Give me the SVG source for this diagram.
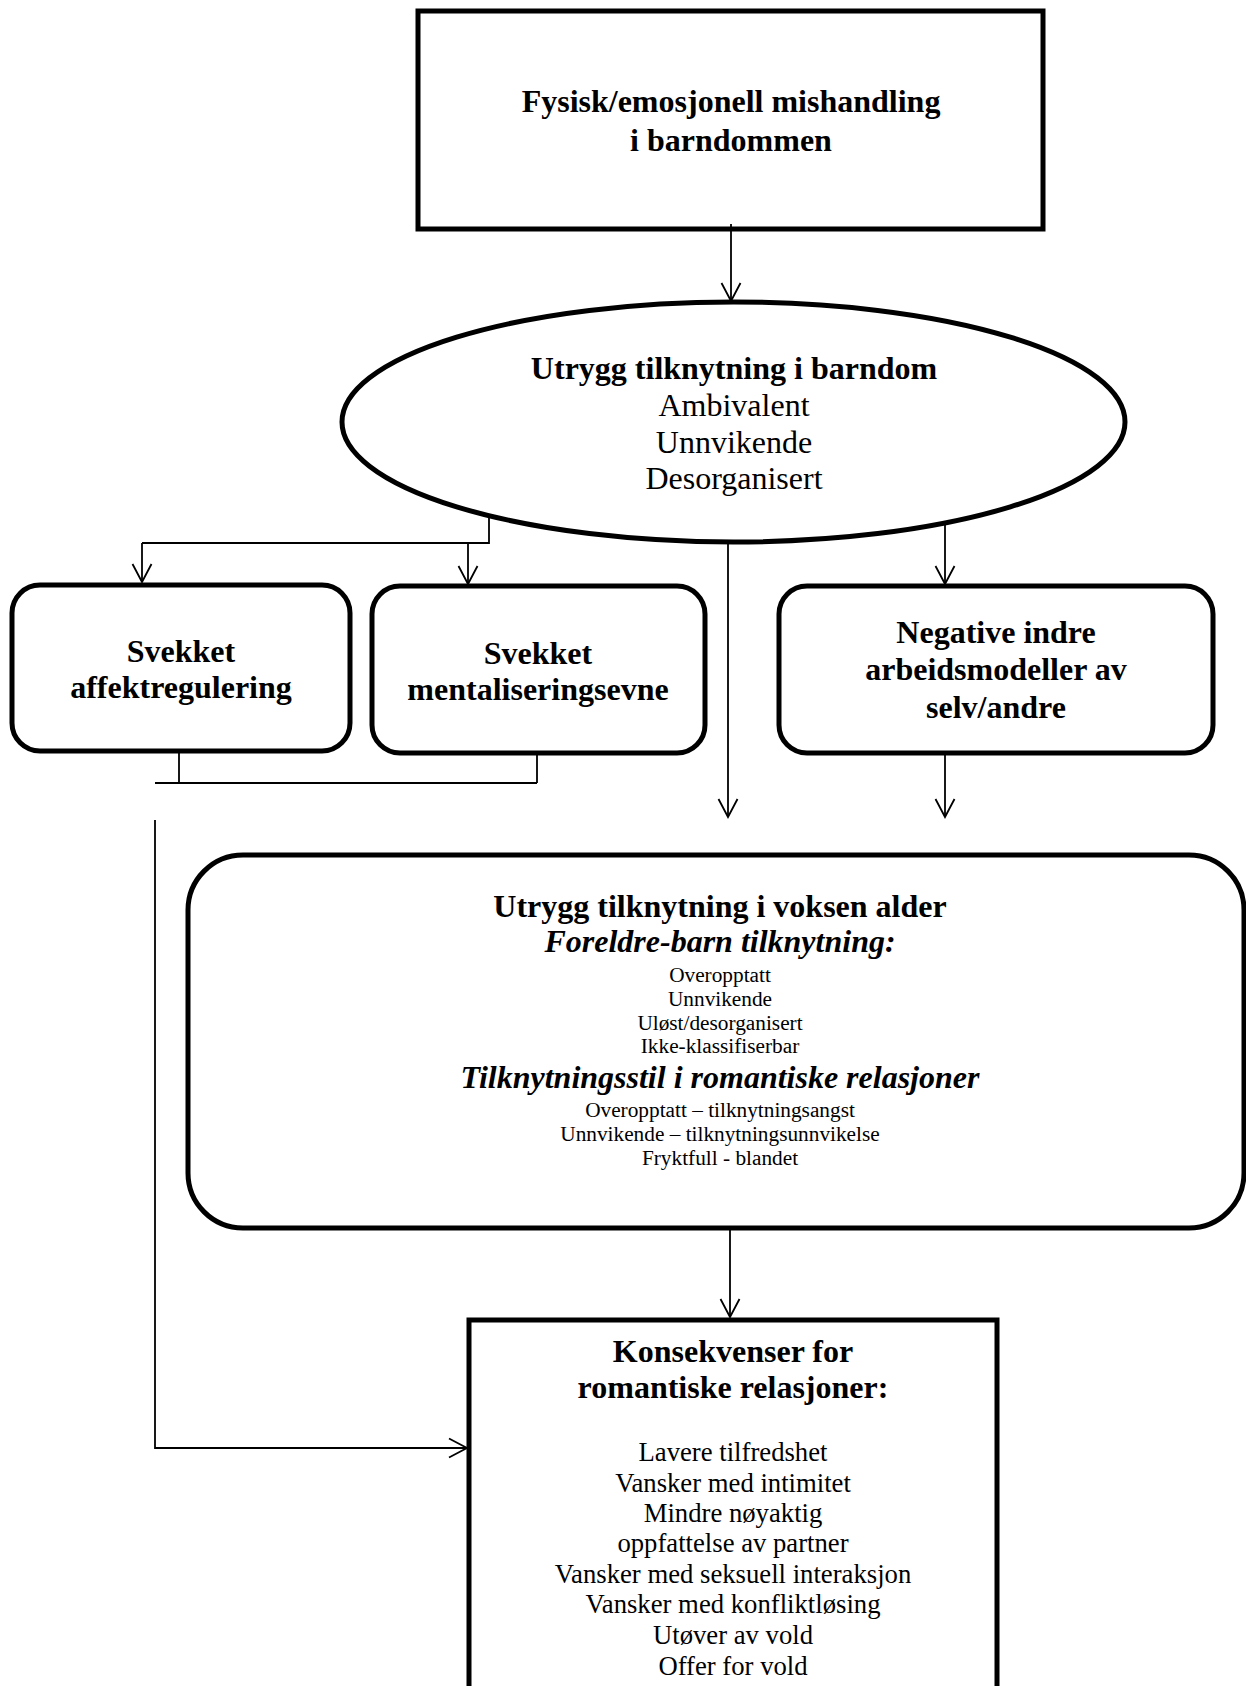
<svg xmlns="http://www.w3.org/2000/svg" width="1246" height="1686" viewBox="0 0 1246 1686">
<style>
.node{fill:#fff;stroke:#000;stroke-width:5}
.conn{fill:none;stroke:#000;stroke-width:1.8}
text{font-family:"Liberation Serif","Times New Roman",serif;fill:#000;text-anchor:middle}
.b{font-weight:bold;font-size:32px}
.bi{font-weight:bold;font-style:italic;font-size:32px}
.r32{font-size:32px}
.r27{font-size:26.7px}
.r21{font-size:21.3px}
</style>
<defs>
<marker id="arr" markerUnits="userSpaceOnUse" markerWidth="22" markerHeight="22" viewBox="-20 -11 22 22" refX="0" refY="0" orient="auto">
<path d="M-18,-9.5 L0,0 L-18,9.5" fill="none" stroke="#000" stroke-width="1.8"/>
</marker>
</defs>
<rect width="1246" height="1686" fill="#fff"/>

<g id="n-mishandling">
<rect class="node" x="418" y="11" width="625" height="218" stroke-width="4.5"/>
<text class="b" x="731" y="112">Fysisk/emosjonell mishandling</text>
<text class="b" x="731" y="151">i barndommen</text>
</g>

<g id="n-utrygg-barndom">
<ellipse class="node" cx="733.5" cy="422" rx="391.5" ry="120"/>
<text class="b" x="734" y="379">Utrygg tilknytning i barndom</text>
<text class="r32" x="734" y="416">Ambivalent</text>
<text class="r32" x="734" y="453">Unnvikende</text>
<text class="r32" x="734" y="489">Desorganisert</text>
</g>

<g id="n-affekt">
<rect class="node" x="12" y="585" width="338" height="166" rx="28"/>
<text class="b" x="181" y="662">Svekket</text>
<text class="b" x="181" y="698">affektregulering</text>
</g>

<g id="n-mentalisering">
<rect class="node" x="372" y="586" width="333" height="167" rx="28"/>
<text class="b" x="538" y="664">Svekket</text>
<text class="b" x="538" y="700">mentaliseringsevne</text>
</g>

<g id="n-negative">
<rect class="node" x="779" y="586" width="434" height="167" rx="28"/>
<text class="b" x="996" y="643">Negative indre</text>
<text class="b" x="996" y="680">arbeidsmodeller av</text>
<text class="b" x="996" y="718">selv/andre</text>
</g>

<g id="n-voksen">
<rect class="node" x="188" y="855" width="1056" height="373" rx="55"/>
<text class="b" x="720" y="917">Utrygg tilknytning i voksen alder</text>
<text class="bi" x="720" y="952">Foreldre-barn tilknytning:</text>
<text class="r21" x="720" y="982">Overopptatt</text>
<text class="r21" x="720" y="1006">Unnvikende</text>
<text class="r21" x="720" y="1030">Uløst/desorganisert</text>
<text class="r21" x="720" y="1053">Ikke-klassifiserbar</text>
<text class="bi" x="720" y="1088">Tilknytningsstil i romantiske relasjoner</text>
<text class="r21" x="720" y="1117">Overopptatt – tilknytningsangst</text>
<text class="r21" x="720" y="1141">Unnvikende – tilknytningsunnvikelse</text>
<text class="r21" x="720" y="1165">Fryktfull - blandet</text>
</g>

<g id="n-konsekvenser">
<rect class="node" x="469" y="1320" width="528" height="400" stroke-width="4.5"/>
<text class="b" x="733" y="1362">Konsekvenser for</text>
<text class="b" x="733" y="1398">romantiske relasjoner:</text>
<text class="r27" x="733" y="1461">Lavere tilfredshet</text>
<text class="r27" x="733" y="1492">Vansker med intimitet</text>
<text class="r27" x="733" y="1522">Mindre nøyaktig</text>
<text class="r27" x="733" y="1552">oppfattelse av partner</text>
<text class="r27" x="733" y="1583">Vansker med seksuell interaksjon</text>
<text class="r27" x="733" y="1613">Vansker med konfliktløsing</text>
<text class="r27" x="733" y="1644">Utøver av vold</text>
<text class="r27" x="733" y="1675">Offer for vold</text>
</g>

<g id="connectors">
<line class="conn" x1="731" y1="224" x2="731" y2="301" marker-end="url(#arr)"/>
<path class="conn" d="M489,516 V543 H142"/>
<line class="conn" x1="142" y1="543" x2="142" y2="582" marker-end="url(#arr)"/>
<line class="conn" x1="468" y1="543" x2="468" y2="584" marker-end="url(#arr)"/>
<line class="conn" x1="728" y1="542" x2="728" y2="817" marker-end="url(#arr)"/>
<line class="conn" x1="945" y1="523" x2="945" y2="584" marker-end="url(#arr)"/>
<line class="conn" x1="945" y1="753" x2="945" y2="817" marker-end="url(#arr)"/>
<path class="conn" d="M179,751 V783 M537,753 V783 M155,783 H537"/>
<path class="conn" d="M155,820 V1448 H467" marker-end="url(#arr)"/>
<line class="conn" x1="730" y1="1228" x2="730" y2="1317" marker-end="url(#arr)"/>
</g>
</svg>
